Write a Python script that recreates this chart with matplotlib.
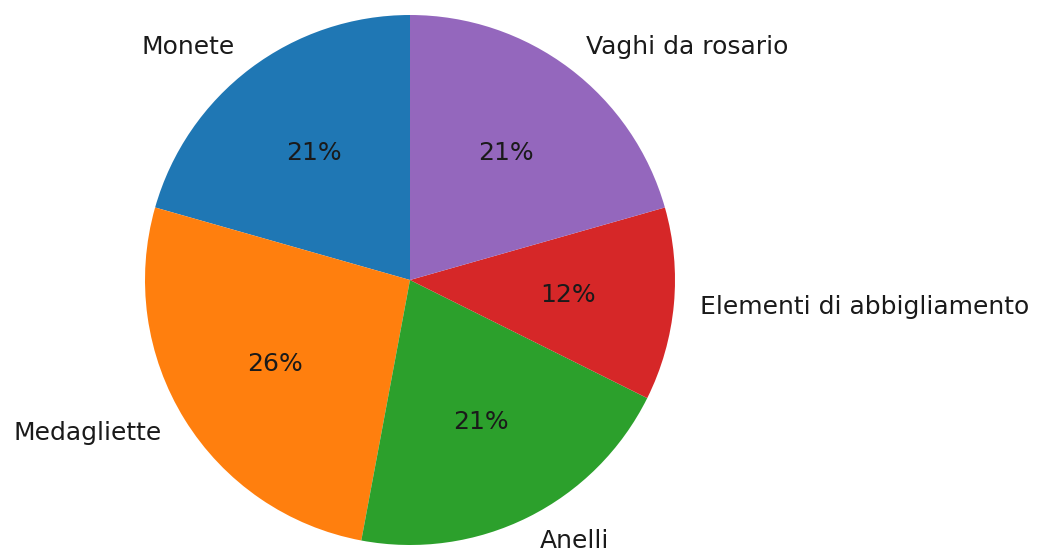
import matplotlib
matplotlib.use('Agg')
import matplotlib.pyplot as plt

# counts per category (percentages)
labels = ['Monete', 'Medagliette', 'Anelli',
          'Elementi di abbigliamento', 'Vaghi da rosario']
counts = [7, 9, 7, 4, 7]
colors = ['#1f77b4', '#ff7f0e', '#2ca02c', '#d62728', '#9467bd']

fig = plt.figure(figsize=(10.38, 5.56), dpi=100)
# pie centre ~ (410, 280) px, radius ~ 265 px
ax = fig.add_axes([(410 - 265) / 1038, (556 - 280 - 265) / 556,
                   530 / 1038, 530 / 556])
wedges, texts, autotexts = ax.pie(counts, labels=labels, colors=colors,
                                  autopct='%1.0f%%', startangle=90,
                                  textprops={'fontsize': 18,
                                             'color': '#1a1a1a'})
for t in texts + autotexts:
    t.set_clip_on(False)
ax.set_xlim(-1, 1)
ax.set_ylim(-1, 1)
ax.set_aspect('equal')

fig.savefig('out.png', dpi=100)
